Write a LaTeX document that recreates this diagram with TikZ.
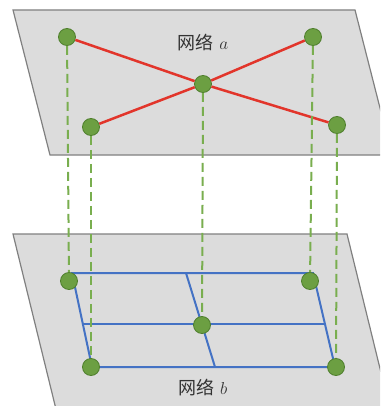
\documentclass[tikz,border=0pt]{standalone}
\usepackage{fontspec}
\newfontfamily\cjk{Noto Sans CJK SC}
\usetikzlibrary{positioning}
\definecolor{plgray}{HTML}{DCDCDC}
\definecolor{plline}{HTML}{808080}
\definecolor{ndgreen}{HTML}{6C9F42}
\definecolor{ndedge}{HTML}{4F7F2D}
\definecolor{dsgreen}{HTML}{79AE4F}
\definecolor{lkred}{HTML}{E2352B}
\definecolor{lkblue}{HTML}{4472C4}

\begin{document}
\begin{tikzpicture}[x=1pt,y=-1pt,
       plane/.style={fill=plgray,draw=plline,line width=1.2pt},
       vx/.style={circle,fill=ndgreen,draw=ndedge,line width=0.8pt,inner sep=0pt,minimum size=17pt},
       proj/.style={dsgreen,line width=2pt,dash pattern=on 9pt off 5pt},
       redlk/.style={lkred,line width=2.5pt},
       grid/.style={lkblue,line width=2pt},
       lbl/.style={text=black!80,font=\fontsize{18}{21}\selectfont}]
      \useasboundingbox (0,0) rectangle (380,406);
      \clip (0,0) rectangle (380,406);
      \draw[plane] (13,10) -- (355,10) -- (392,155) -- (50,155) -- cycle;
      \draw[plane] (13,234) -- (347,234) -- (400,450) -- (66,450) -- cycle;
      \node[lbl] (la) at (203,43) {{\cjk 网络} $a$};
      \node[lbl] (lb) at (203,388) {{\cjk 网络} $b$};
      \coordinate (g11) at (72,273);
      \coordinate (g12) at (186,273);
      \coordinate (g13) at (313,273);
      \coordinate (g21) at (83,324);
      \coordinate (g23) at (325,324);
      \coordinate (g31) at (92,367);
      \coordinate (g32) at (215,367);
      \coordinate (g33) at (335,367);
      \draw[grid] (g11) -- (g13) -- (g33) -- (g31) -- cycle;
      \draw[grid] (g21) -- (g23);
      \draw[grid] (g12) -- (g32);
      \node[vx] (a1) at (67,37) {};
      \node[vx] (a2) at (313,37) {};
      \node[vx] (a3) at (203,84) {};
      \node[vx] (a4) at (91,127) {};
      \node[vx] (a5) at (337,125) {};
      \node[vx] (b1) at (69,281) {};
      \node[vx] (b2) at (310,281) {};
      \node[vx] (b3) at (202,325) {};
      \node[vx] (b4) at (91,367) {};
      \node[vx] (b5) at (336,367) {};
      \draw[redlk] (a1) -- (a3);
      \draw[redlk] (a3) -- (a5);
      \draw[redlk] (a4) -- (a3);
      \draw[redlk] (a3) -- (a2);
      \draw[proj] (a1) -- (b1);
      \draw[proj] (a2) -- (b2);
      \draw[proj] (a3) -- (b3);
      \draw[proj] (a4) -- (b4);
      \draw[proj] (a5) -- (b5);
    \end{tikzpicture}
\end{document}
